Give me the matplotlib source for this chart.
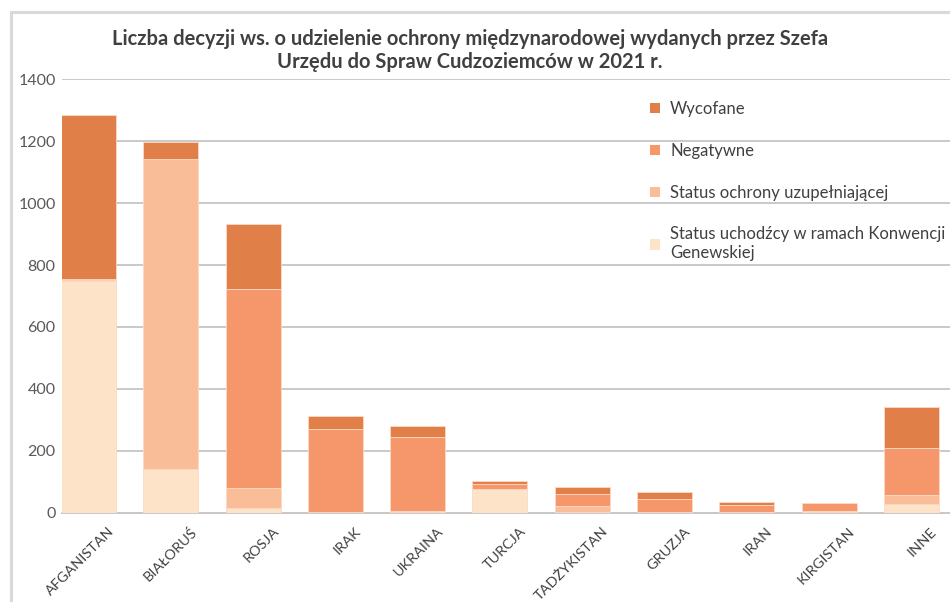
import numpy as np
import matplotlib.pyplot as plt
import matplotlib.transforms as mtransforms
from matplotlib.patches import Rectangle, Patch

plt.rcParams['font.family'] = ['Lato', 'DejaVu Sans']

countries = ['AFGANISTAN', 'BIAŁORUŚ', 'ROSJA', 'IRAK', 'UKRAINA', 'TURCJA',
             'TADŻYKISTAN', 'GRUZJA', 'IRAN', 'KIRGISTAN', 'INNE']

# od dołu do góry
uchodzca = [748, 140, 16, 1, 2, 75, 3, 1, 1, 2, 27]
uzupelniajaca = [5, 1003, 65, 2, 4, 2, 20, 1, 1, 3, 30]
negatywne = [3, 0, 641, 267, 237, 16, 37, 43, 24, 26, 151]
wycofane = [529, 54, 212, 42, 36, 10, 22, 22, 8, 0, 132]

series = [
    ('Status uchodźcy w ramach Konwencji\nGenewskiej', uchodzca, '#FDE4C9'),
    ('Status ochrony uzupełniającej', uzupelniajaca, '#F9BD98'),
    ('Negatywne', negatywne, '#F6976B'),
    ('Wycofane', wycofane, '#E07F48'),
]

W, H = 950, 602
fig = plt.figure(figsize=(W / 100, H / 100), dpi=100)
ax = fig.add_axes([62 / W, 1 - 512.7 / H, (W - 62) / W, (512.7 - 79.3) / H])

x = np.arange(len(countries))
bottom = np.zeros(len(countries))
for name, vals, col in series:
    vals = np.array(vals, dtype=float)
    ax.bar(x, vals, width=0.668, bottom=bottom, color=col,
           edgecolor='#FCD9C4', linewidth=0.6, zorder=3)
    bottom += vals

ax.set_ylim(0, 1400)
ax.set_xlim(-0.322, 10.47)
ax.set_yticks(np.arange(0, 1401, 200))
ax.yaxis.grid(True, color='#C0C0C0', linewidth=1.2, zorder=0)
ax.set_axisbelow(True)
for s in ['top', 'right', 'left']:
    ax.spines[s].set_visible(False)
ax.spines['bottom'].set_color('#C8C8C8')
ax.spines['bottom'].set_linewidth(1.4)
ax.tick_params(axis='both', length=0)
ax.tick_params(axis='y', labelsize=11.5, labelcolor='#595959', pad=4.5)

# etykiety kategorii jako osobne teksty, przesunięte jak w Excelu
ax.set_xticks(x)
ax.set_xticklabels([])
offset = mtransforms.ScaledTranslation(0.235, -0.165, fig.dpi_scale_trans)
trans = ax.get_xaxis_transform() + offset
for xi, name in zip(x, countries):
    ax.text(xi, 0, name, transform=trans, rotation=45, ha='right',
            va='center', rotation_mode='anchor', fontsize=10.4,
            color='#404040')

fig.text(470 / W, 1 - 50.5 / H,
         'Liczba decyzji ws. o udzielenie ochrony międzynarodowej wydanych przez Szefa\n'
         'Urzędu do Spraw Cudzoziemców w 2021 r.',
         ha='center', va='center', fontsize=14.5, fontweight='bold',
         color='#404040', linespacing=1.2)

handles = [Patch(facecolor=col, edgecolor='none') for _, _, col in series[::-1]]
labels = [name for name, _, _ in series[::-1]]
leg = fig.legend(handles, labels, loc='upper left',
                 bbox_to_anchor=(650 / W, 1 - 101 / H), frameon=False,
                 fontsize=12, labelcolor='#404040', handlelength=0.6,
                 handleheight=0.6, handletextpad=0.6, labelspacing=1.55,
                 borderpad=0, borderaxespad=0)

# ramka wykresu (widoczna z lewej i u góry)
fig.patches.append(Rectangle((10.5 / W, -0.1), 2.0, 1 - 11.5 / H + 0.1,
                             transform=fig.transFigure, fill=False,
                             edgecolor='#D9D9D9', linewidth=2.2))

fig.savefig('out.png', dpi=100)
